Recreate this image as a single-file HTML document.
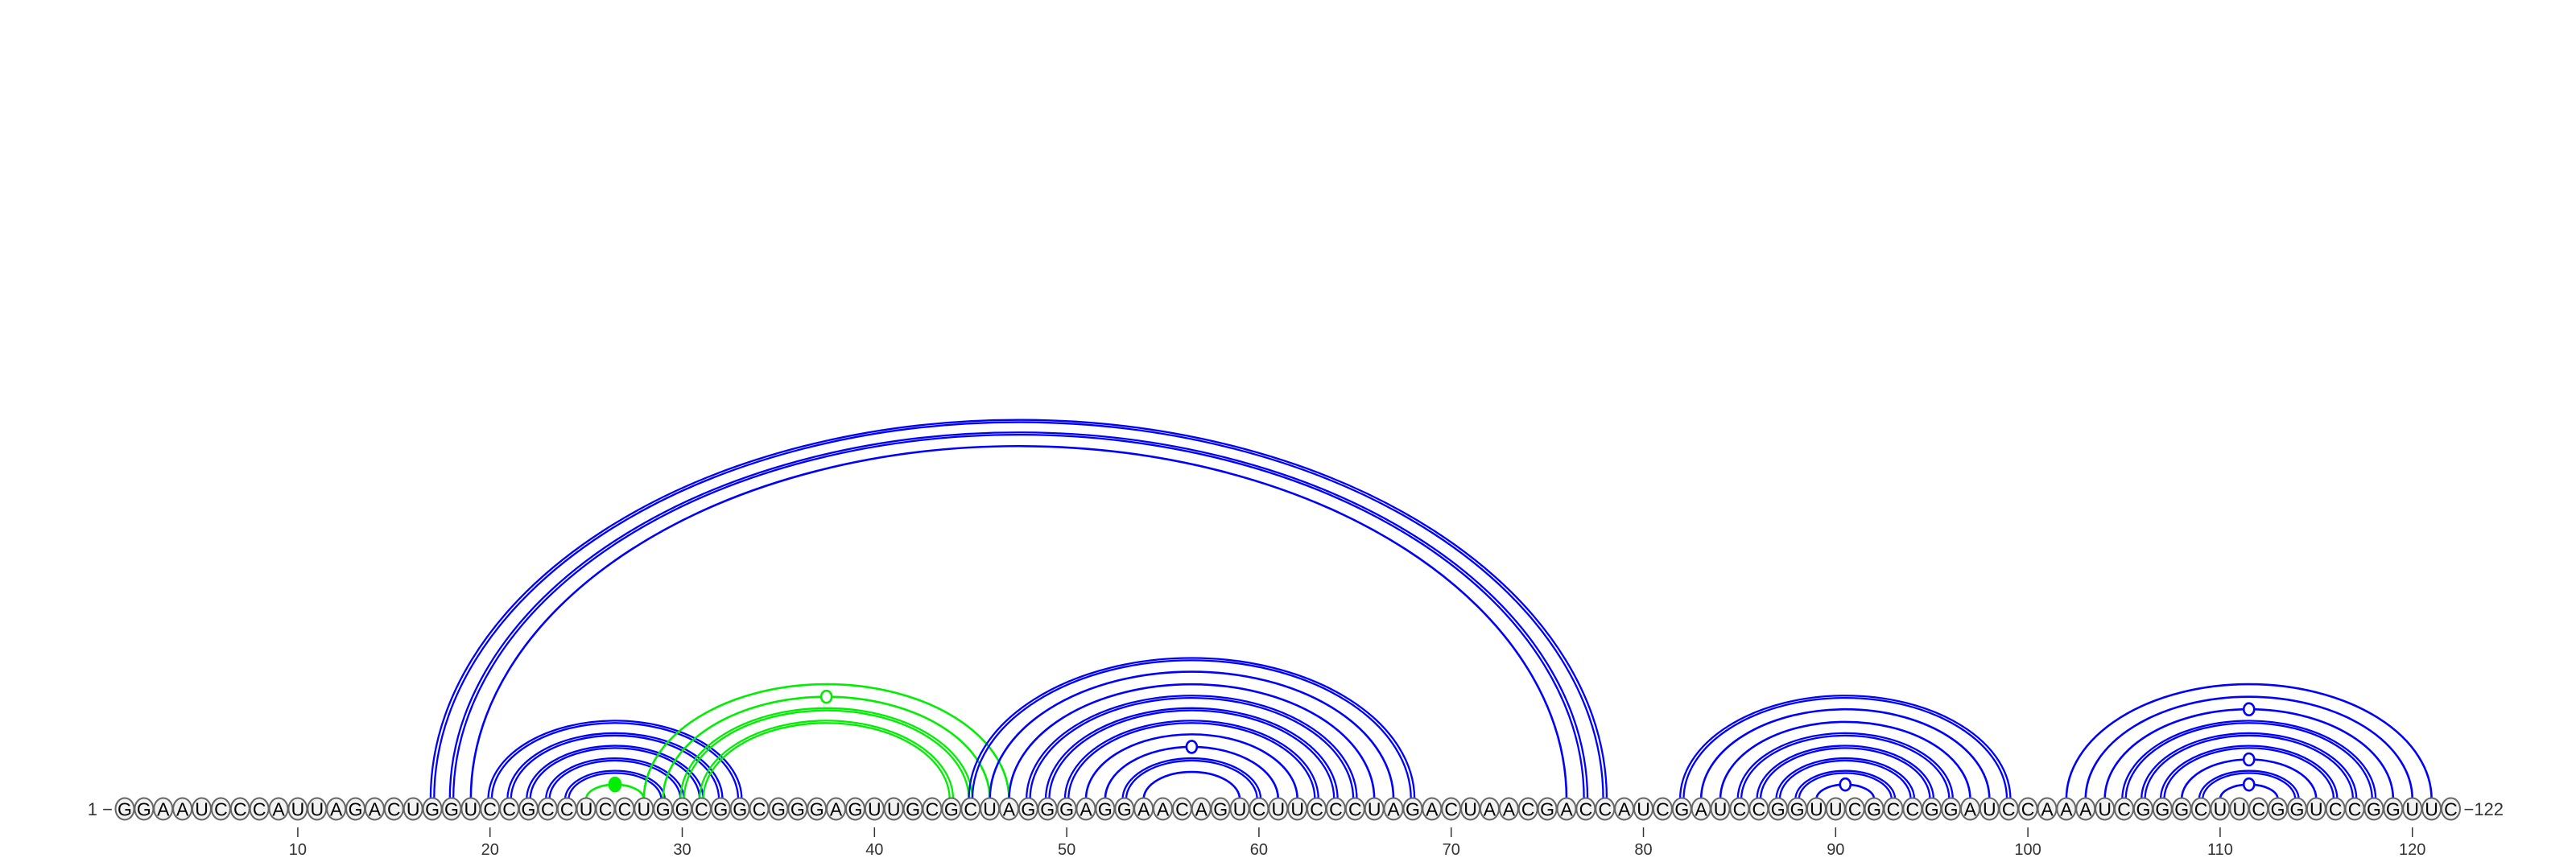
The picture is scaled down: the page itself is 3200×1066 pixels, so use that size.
<!DOCTYPE html>
<html><head><meta charset="utf-8"><style>
html,body{margin:0;padding:0;background:#fff;}
svg{display:block;}
text{font-family:"Liberation Sans","DejaVu Sans",sans-serif;}
</style></head><body>
<svg id="chart" width="3200" height="1066" viewBox="0 0 3200 1066" xmlns="http://www.w3.org/2000/svg">
<g id="arcs"></g>
<g id="bases"></g>
<g id="ticks"></g>
</svg>
<script>
const sequence = "GGAAUCCCAUUAGACUGGUCCGCCUCCUGGCGGCGGGAGUUGCGCUAGGGAGGAACAGUCUUCCCUAGACUAACGACCAUCGAUCCGGUUCGCCGGAUCCAAAUCGGGCUUCGGUCCGGUUC";
const pairLeft  = [17,18,19, 20,21,22,23,24, 25,28,29,30,31, 45,46,47,48,49,50,51,52,53,54, 82,83,84,85,86,87,88,89, 102,103,104,105,106,107,108,109,110];
const pairRight = [78,77,76, 33,32,31,30,29, 28,47,46,45,44, 68,67,66,65,64,63,62,61,60,59, 99,98,97,96,95,94,93,92, 121,120,119,118,117,116,115,114,113];
const pairStyle = ["d","d","s", "d","d","d","d","d", "f","s","c","d","d", "d","s","s","d","d","d","s","c","d","s", "d","s","s","d","d","d","d","c", "s","s","c","d","d","d","c","d","c"];
const pairColor = ["b","b","b", "b","b","b","b","b", "g","g","g","g","g", "b","b","b","b","b","b","b","b","b","b", "b","b","b","b","b","b","b","b", "b","b","b","b","b","b","b","b","b"];
const tickValues = [10,20,30,40,50,60,70,80,90,100,110,120];

const NS = "http://www.w3.org/2000/svg";
const X0 = 155, STEP = 23.88, BASE_Y = 1005, ARC_Y = 993;
function xPos(i){ return X0 + (i-1)*STEP; }
function arcH(half){ return Math.max(4, 0.652*half - 5); }
function mk(tag, attrs, parent){ const e=document.createElementNS(NS,tag); for(const k in attrs) e.setAttribute(k,attrs[k]); parent.appendChild(e); return e; }

const arcsG = document.getElementById('arcs');
const basesG = document.getElementById('bases');
const ticksG = document.getElementById('ticks');

function arcPath(x1,x2){
  const half=(x2-x1)/2, h=arcH(half);
  return `M${x1},${ARC_Y} A${half},${h} 0 0 1 ${x2},${ARC_Y}`;
}

for(let k=0;k<pairLeft.length;k++){
  const col = pairColor[k]==="g" ? "#00ee00" : "#0000ff";
  const a=xPos(pairLeft[k]), b=xPos(pairRight[k]);
  const st=pairStyle[k];
  if(st==="d"){
    for(const off of [-2.2,2.2]){
      const p=mk('path',{d:arcPath(a+off,b-off),fill:'none',stroke:col,'stroke-width':2.3},arcsG);
      
      
    }
  } else {
    const p=mk('path',{d:arcPath(a,b),fill:'none',stroke:col,'stroke-width':2.6},arcsG);
    
    
    if(st==="c"||st==="f"){
      const half=(b-a)/2, top=ARC_Y-arcH(half);
      const m=mk('ellipse',{cx:(a+b)/2,cy:top,rx:st==="f"?7:6.5,ry:st==="f"?8.5:7.5,fill:st==="f"?col:'#fff',stroke:col,'stroke-width':2.6},arcsG);
      
      
    }
  }
}

for(let i=1;i<=sequence.length;i++){
  const g=mk('g',{},basesG);
  
  
  mk('ellipse',{cx:xPos(i),cy:BASE_Y,rx:11.5,ry:13.5,fill:'#f2f2f2',stroke:'#666','stroke-width':2},g);
  const t=mk('text',{x:xPos(i),y:BASE_Y+8.5,'text-anchor':'middle','font-size':23,fill:'#000'},g);
  t.textContent=sequence[i-1];
}

const l1=mk('text',{x:140,y:BASE_Y+8,'text-anchor':'end','font-size':22,fill:'#333'},ticksG);
l1.textContent="1 \u2212";


const l2=mk('text',{x:xPos(sequence.length)+16,y:BASE_Y+8,'text-anchor':'start','font-size':22,fill:'#333'},ticksG);
l2.textContent="\u2212"+sequence.length;



for(const v of tickValues){
  const ln=mk('line',{x1:xPos(v),x2:xPos(v),y1:1028,y2:1040,stroke:'#333','stroke-width':1.5},ticksG);
  
  
  const t=mk('text',{x:xPos(v),y:1062,'text-anchor':'middle','font-size':20,fill:'#333'},ticksG);
  t.textContent=v;
  
  
}
</script>
</body></html>
